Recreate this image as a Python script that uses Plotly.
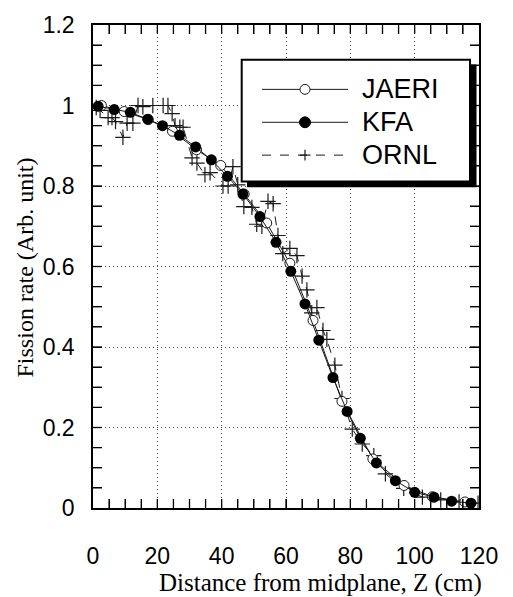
import plotly.graph_objects as go

# ---------------- data ----------------
kfa_x = [1.6, 6.6, 11.6, 17.0, 21.6, 26.9, 31.9, 36.8, 41.8, 46.6, 51.9, 56.9, 61.5, 65.9,
         70.2, 74.6, 79.0, 83.1, 88.1, 94.0, 100.0, 106.0, 111.5, 117.5]
kfa_y = [0.998, 0.99, 0.983, 0.966, 0.95, 0.926, 0.897, 0.865, 0.824, 0.78, 0.724, 0.66, 0.588, 0.507,
         0.417, 0.324, 0.24, 0.173, 0.112, 0.068, 0.039, 0.027, 0.017, 0.012]

jaeri_x = [2.6, 9.7, 17.2, 24.7, 32.2, 39.7, 47.0, 54.0, 61.2, 68.4, 77.4, 87.0, 96.7, 105.5, 115.6]
jaeri_y = [1.0, 0.985, 0.965, 0.936, 0.89, 0.851, 0.78, 0.708, 0.608, 0.466, 0.265, 0.122, 0.056, 0.028, 0.015]

ornl_x = [1.0, 2.2, 4.7, 5.9, 7.0, 9.3, 10.6, 12.4, 14.0, 15.5, 18.6, 21.8, 23.3, 24.6, 25.5, 27.0,
          28.0, 30.8, 32.3, 34.8, 36.4, 40.4, 42.0, 43.5, 45.0, 46.9, 49.4, 50.9, 52.5, 54.4, 56.0,
          57.5, 59.0, 61.2, 63.4, 65.0, 66.5, 68.0, 69.6, 71.5, 72.7, 75.2, 77.4, 80.6, 83.7, 87.3,
          90.9, 96.6, 102.4, 108.1, 113.8, 119.7]
ornl_y = [0.995, 0.988, 0.97, 0.97, 0.96, 0.921, 0.956, 0.956, 1.0, 0.997, 1.0, 1.0, 1.0, 0.98, 0.95,
          0.946, 0.946, 0.87, 0.857, 0.828, 0.833, 0.8, 0.8, 0.848, 0.803, 0.749, 0.747, 0.705, 0.70,
          0.762, 0.756, 0.677, 0.632, 0.645, 0.627, 0.576, 0.542, 0.485, 0.498, 0.441, 0.419, 0.355,
          0.272, 0.196, 0.159, 0.13, 0.085, 0.049, 0.027, 0.02, 0.015, 0.012]

series_names = ["JAERI", "KFA", "ORNL"]
x_title = "Distance from midplane, Z (cm)"
y_title = "Fission rate (Arb. unit)"
x_range = [0, 120]
y_range = [0, 1.2]
x_minor_step = 5
y_minor_step = 0.05

# ---------------- layout geometry (pixels) ----------------
W, H = 513, 597
L, R, T, B = 93, 34, 18, 89
PW, PH = W - L - R, H - T - B

def px(p):
    return (p - L) / PW

def py(p):
    return (H - B - p) / PH

INK = "#1a1a1a"

fig = go.Figure()
fig.add_trace(go.Scatter(x=ornl_x, y=ornl_y, mode="lines+markers", name=series_names[2],
                         line=dict(color=INK, width=1, dash="dash"),
                         marker=dict(symbol="cross-thin-open", size=11, line=dict(color=INK, width=1.2)),
                         showlegend=False))
fig.add_trace(go.Scatter(x=jaeri_x, y=jaeri_y, mode="lines+markers", name=series_names[0],
                         line=dict(color=INK, width=1),
                         marker=dict(symbol="circle", size=10, color="white", line=dict(color=INK, width=1)),
                         showlegend=False))
fig.add_trace(go.Scatter(x=kfa_x, y=kfa_y, mode="lines+markers", name=series_names[1],
                         line=dict(color=INK, width=1),
                         marker=dict(symbol="circle", size=11, color="black"),
                         showlegend=False))

tickfont = dict(family="Liberation Sans, Arial, sans-serif", size=23, color="black")

fig.update_layout(
    xaxis=dict(range=x_range, dtick=20, ticks="inside", ticklen=9, tickcolor="#000", tickwidth=1.3,
               showline=True, linecolor="black", linewidth=1.5, mirror="allticks",
               minor=dict(dtick=x_minor_step, ticks="inside", ticklen=9, tickcolor="#000", tickwidth=1.3,
                          showgrid=False),
               showgrid=True, gridcolor="#444", gridwidth=1, griddash="1px,3px",
               zeroline=False, tickfont=tickfont, ticklabelstandoff=27),
    yaxis=dict(range=y_range, dtick=0.2, ticks="inside", ticklen=9, tickcolor="#000", tickwidth=1.3,
               showline=True, linecolor="black", linewidth=1.5, mirror="allticks",
               minor=dict(dtick=y_minor_step, ticks="inside", ticklen=9, tickcolor="#000", tickwidth=1.3,
                          showgrid=False),
               showgrid=True, gridcolor="#444", gridwidth=1, griddash="1px,3px",
               zeroline=False, tickfont=tickfont, ticklabelstandoff=12),
)

shapes = []

# ---------------- explicit tick marks on all four sides (through the axes' scales) ----------------
TL = 9
n_xt = int(round((x_range[1] - x_range[0]) / x_minor_step))
n_yt = int(round((y_range[1] - y_range[0]) / y_minor_step))
tick_line = dict(color="black", width=1.3)
for i in range(1, n_xt):
    t = x_range[0] + i * x_minor_step
    for anchor, sgn in ((y_range[0], 1), (y_range[1], -1)):
        shapes.append(dict(type="line", xref="x", yref="y", layer="above", ysizemode="pixel",
                           yanchor=anchor, x0=t, x1=t, y0=0, y1=sgn * TL, line=tick_line))
for i in range(1, n_yt):
    t = y_range[0] + i * y_minor_step
    for anchor, sgn in ((x_range[0], 1), (x_range[1], -1)):
        shapes.append(dict(type="line", xref="x", yref="y", layer="above", xsizemode="pixel",
                           xanchor=anchor, y0=t, y1=t, x0=0, x1=sgn * TL, line=tick_line))

# ---------------- hand-drawn legend with shadow ----------------
shapes.append(dict(type="rect", xref="paper", yref="paper", layer="above",
                   x0=px(247), x1=px(476.5), y0=py(58), y1=py(182.5),
                   fillcolor="black", line=dict(width=0)))
shapes.append(dict(type="rect", xref="paper", yref="paper", layer="above",
                   x0=px(241.7), x1=px(470), y0=py(53.3), y1=py(176.7),
                   fillcolor="white", line=dict(color="black", width=2)))

rows = [83.3, 116.7, 150.0]
sx0, sx1, mx = 262, 348, 305
dashes = ["solid", "solid", "dash"]
for rowy, d in zip(rows, dashes):
    shapes.append(dict(type="line", xref="paper", yref="paper", layer="above",
                       x0=px(sx0), x1=px(sx1), y0=py(rowy), y1=py(rowy),
                       line=dict(color=INK, width=1, dash=d)))
r = 5
shapes.append(dict(type="circle", xref="paper", yref="paper", layer="above",
                   x0=px(mx - r), x1=px(mx + r), y0=py(rows[0] - r), y1=py(rows[0] + r),
                   fillcolor="white", line=dict(color=INK, width=1)))
r2 = 5.5
shapes.append(dict(type="circle", xref="paper", yref="paper", layer="above",
                   x0=px(mx - r2), x1=px(mx + r2), y0=py(rows[1] - r2), y1=py(rows[1] + r2),
                   fillcolor="black", line=dict(color="black", width=1)))
pl = 5.5
shapes.append(dict(type="line", xref="paper", yref="paper", layer="above",
                   x0=px(mx - pl), x1=px(mx + pl), y0=py(rows[2]), y1=py(rows[2]),
                   line=dict(color=INK, width=1.2)))
shapes.append(dict(type="line", xref="paper", yref="paper", layer="above",
                   x0=px(mx), x1=px(mx), y0=py(rows[2] - pl), y1=py(rows[2] + pl),
                   line=dict(color=INK, width=1.2)))

annotations = []
for name, rowy in zip(series_names, rows):
    annotations.append(dict(text=name, xref="paper", yref="paper", x=px(360), y=py(rowy),
                            xanchor="left", yanchor="middle", showarrow=False,
                            font=dict(family="Liberation Sans, Arial, sans-serif", size=27, color="black")))

serif = dict(family="Liberation Serif, Times New Roman, serif", size=25, color="black")
annotations.append(dict(text=x_title, xref="paper", yref="paper", x=px(320), y=py(584),
                        xanchor="center", yanchor="middle", showarrow=False, font=serif))
annotations.append(dict(text=y_title, xref="paper", yref="paper", x=px(25), y=py(264),
                        xanchor="center", yanchor="middle", showarrow=False, textangle=-90,
                        font=dict(family="Liberation Serif, Times New Roman, serif", size=24, color="black")))

fig.update_layout(width=W, height=H, margin=dict(l=L, r=R, t=T, b=B),
                  paper_bgcolor="white", plot_bgcolor="white",
                  shapes=shapes, annotations=annotations, showlegend=False)

fig.write_html("out.html")
